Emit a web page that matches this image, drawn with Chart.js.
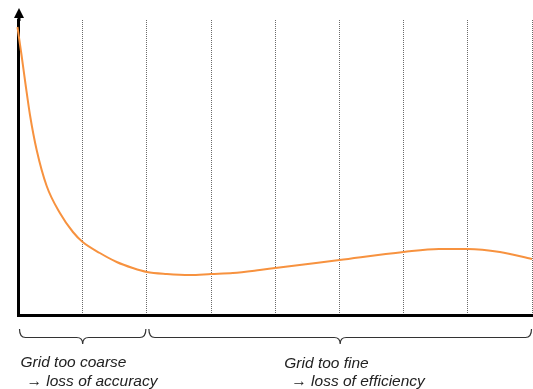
<!DOCTYPE html>
<html>
<head>
<meta charset="utf-8">
<script src="https://cdn.jsdelivr.net/npm/chart.js@4/dist/chart.umd.min.js"></script>
<style>
html,body{margin:0;padding:0;background:#fff;}
#wrap{width:533px;height:389px;position:relative;}
</style>
</head>
<body>
<div id="wrap"><canvas id="c"></canvas></div>
<script>
// grid resolution (x) vs. error (y)
const gridX = [-0.016, 0.047, 0.109, 0.179, 0.283, 0.439, 0.645, 0.848, 1.0, 1.267, 1.53, 1.78, 2.0, 2.31, 2.67, 3.0, 3.34, 3.76, 4.0, 5.0, 6.0, 6.55, 7.0, 7.5, 8.0];
const errorY = [288, 260, 231, 200, 165, 129, 102, 83, 73, 62, 53, 47, 43, 41, 40, 41, 42, 45, 47, 55, 63, 66, 66, 63, 56];
const gridTicks = [0, 1, 2, 3, 4, 5, 6, 7, 8];
const braceRanges = [[0, 2], [2, 8]];
const braceLine1 = ["Grid too coarse", "Grid too fine"];
const braceLine2 = ["\u2192 loss of accuracy", "\u2192 loss of efficiency"];
const braceTextX = [0.0, 4.11];

const points = gridX.map((x, i) => ({x: x, y: errorY[i]}));

const annot = {
  id: 'annot',
  afterDraw(chart) {
    const ctx = chart.ctx;
    const xs = chart.scales.x;
    const ca = chart.chartArea;
    // y-axis arrow
    const ax = Math.round(ca.left) + 0.5;
    ctx.save();
    ctx.fillStyle = '#000';
    ctx.strokeStyle = '#000';
    ctx.lineWidth = 3;
    ctx.beginPath();
    ctx.moveTo(ax - 0.5, ca.top + 1);
    ctx.lineTo(ax - 0.5, 15);
    ctx.stroke();
    ctx.beginPath();
    ctx.moveTo(ax - 0.5, 8);
    ctx.lineTo(ax - 5.5, 18);
    ctx.lineTo(ax + 4.5, 18);
    ctx.closePath();
    ctx.fill();
    // braces
    ctx.strokeStyle = '#333';
    ctx.lineWidth = 1.2;
    const y0 = 329, y1 = 337.5, y2 = 344, r = 6;
    braceRanges.forEach(([a, b], i) => {
      const xa = xs.getPixelForValue(a) + (i === 0 ? 1 : 2);
      const xb = xs.getPixelForValue(b) - (i === 0 ? 1 : 0.5);
      const xm = (xa + xb) / 2;
      ctx.beginPath();
      ctx.moveTo(xa, y0);
      ctx.quadraticCurveTo(xa, y1, xa + r, y1);
      ctx.lineTo(xm - r, y1);
      ctx.quadraticCurveTo(xm, y1, xm, y2);
      ctx.quadraticCurveTo(xm, y1, xm + r, y1);
      ctx.lineTo(xb - r, y1);
      ctx.quadraticCurveTo(xb, y1, xb, y0);
      ctx.stroke();
    });
    // texts
    ctx.fillStyle = '#222';
    ctx.font = 'italic 15.5px "Liberation Sans", Arial, sans-serif';
    ctx.textBaseline = 'alphabetic';
    ctx.textAlign = 'left';
    braceLine1.forEach((t, i) => {
      const tx = xs.getPixelForValue(braceTextX[i]) + 2;
      ctx.fillText(t, tx, i === 0 ? 366.5 : 368);
      ctx.fillText(braceLine2[i], tx + (i === 0 ? 6 : 7), 385.5);
    });
    ctx.restore();
  }
};

new Chart(document.getElementById('c'), {
  type: 'line',
  data: {
    datasets: [{
      data: points,
      borderColor: '#f7923f',
      borderWidth: 2,
      pointRadius: 0,
      fill: false,
      cubicInterpolationMode: 'monotone',
      clip: false
    }]
  },
  options: {
    responsive: true,
    maintainAspectRatio: false,
    animation: false,
    events: [],
    layout: { autoPadding: false, padding: { left: 18.5, right: 1, top: 20, bottom: 74 } },
    plugins: { legend: { display: false }, tooltip: { enabled: false } },
    scales: {
      x: {
        type: 'linear',
        min: gridTicks[0],
        max: gridTicks[gridTicks.length - 1],
        afterBuildTicks: (s) => { s.ticks = gridTicks.map(v => ({value: v})); },
        ticks: { display: false },
        grid: {
          drawTicks: false,
          tickLength: 0,
          lineWidth: 1,
          color: (c) => (c.tick && c.tick.value === 0) ? 'rgba(0,0,0,0)' : '#6a6a6a'
        },
        border: { display: true, color: '#000', width: 3, dash: [1, 1] }
      },
      y: {
        min: 0,
        max: 295,
        ticks: { display: false },
        grid: { display: false, drawTicks: false, tickLength: 0 },
        border: { display: true, color: '#000', width: 3 }
      }
    }
  },
  plugins: [annot]
});
</script>
</body>
</html>
